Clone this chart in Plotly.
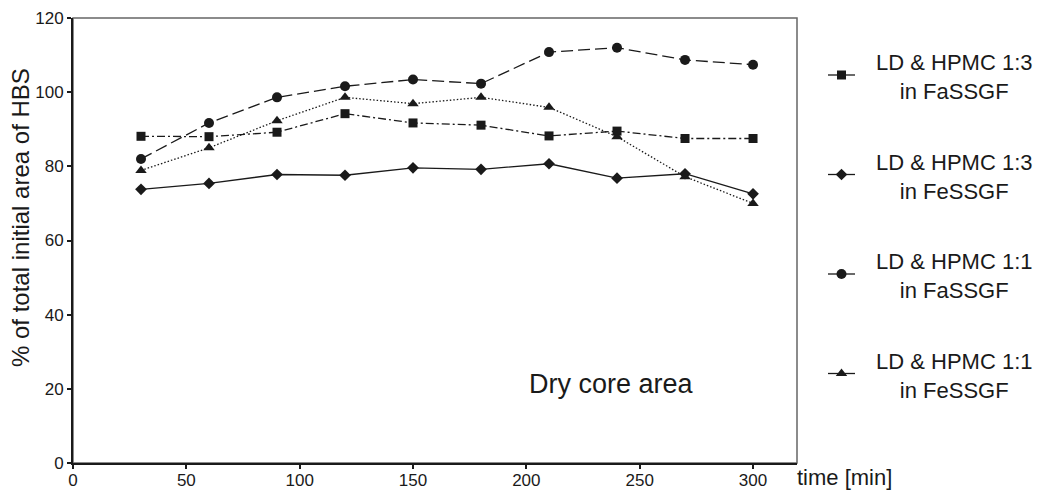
import plotly.graph_objects as go

# ---------------- data ----------------
time_min = [30, 60, 90, 120, 150, 180, 210, 240, 270, 300]
ld_hpmc13_fassgf = [88.1, 88.0, 89.2, 94.2, 91.7, 91.1, 88.2, 89.5, 87.5, 87.5]
ld_hpmc13_fessgf = [73.8, 75.4, 77.8, 77.6, 79.6, 79.2, 80.7, 76.8, 78.0, 72.6]
ld_hpmc11_fassgf = [82.0, 91.7, 98.6, 101.6, 103.4, 102.3, 110.8, 112.0, 108.7, 107.4]
ld_hpmc11_fessgf = [78.9, 85.0, 92.3, 98.6, 96.9, 98.6, 95.9, 88.0, 77.2, 70.0]
series_names = ["LD & HPMC 1:3<br>in FaSSGF", "LD & HPMC 1:3<br>in FeSSGF",
                "LD & HPMC 1:1<br>in FaSSGF", "LD & HPMC 1:1<br>in FeSSGF"]
x_ticks = [0, 50, 100, 150, 200, 250, 300]
y_ticks = [0, 20, 40, 60, 80, 100, 120]

# ---------------- layout constants ----------------
W, H = 1043, 492
L, R, T, B = 73, 797, 18, 463
FONT = "Liberation Sans, Arial, sans-serif"
INK = "#1a1a1a"

styles = [
    dict(symbol="square", size=9, dash="8px,3px,2px,3px", lsize=9),
    dict(symbol="diamond", size=9, dash="solid", lsize=9),
    dict(symbol="circle", size=10, dash="12px,5px", lsize=10),
    dict(symbol="triangle-up", size=10, dash="1.5px,2px", lsize=10),
]
all_series = [ld_hpmc13_fassgf, ld_hpmc13_fessgf, ld_hpmc11_fassgf, ld_hpmc11_fessgf]

fig = go.Figure()
for vals, st, name in zip(all_series, styles, series_names):
    fig.add_trace(go.Scatter(
        x=time_min, y=vals, mode="lines+markers", name=name, showlegend=False,
        line=dict(color=INK, width=1.3, dash=st["dash"]),
        marker=dict(symbol=st["symbol"], size=st["size"], color=INK),
        xaxis="x", yaxis="y", cliponaxis=False,
    ))

# custom legend (symbols on a pixel-space overlay axis, centred text as annotations)
leg_x0, leg_x1 = 828, 855
leg_y0, leg_dy = 75, 99.5
annotations = []
for i, (st, name) in enumerate(zip(styles, series_names)):
    ym = leg_y0 + leg_dy * i
    fig.add_trace(go.Scatter(
        x=[leg_x0, leg_x1], y=[ym, ym], mode="lines",
        showlegend=False, hoverinfo="skip",
        line=dict(color=INK, width=1.3), xaxis="x2", yaxis="y2",
    ))
    fig.add_trace(go.Scatter(
        x=[(leg_x0 + leg_x1) / 2], y=[ym], mode="markers",
        showlegend=False, hoverinfo="skip",
        marker=dict(symbol=st["symbol"], size=st["lsize"], color=INK),
        xaxis="x2", yaxis="y2",
    ))
    annotations.append(dict(
        x=954 / W, y=1 - (ym + 2) / H, xref="paper", yref="paper",
        text=name, showarrow=False, align="center",
        xanchor="center", yanchor="middle",
        font=dict(family=FONT, size=22, color=INK),
    ))

annotations += [
    dict(x=20 / W, y=1 - 218 / H, xref="paper", yref="paper",
         text="% of total initial area of HBS", textangle=-90, showarrow=False,
         xanchor="center", yanchor="middle",
         font=dict(family=FONT, size=24, color=INK)),
    dict(x=795 / W, y=1 - 477.5 / H, xref="paper", yref="paper",
         text="time [min]", showarrow=False, xanchor="left", yanchor="middle",
         font=dict(family=FONT, size=22, color=INK)),
    dict(x=611 / W, y=1 - 384 / H, xref="paper", yref="paper",
         text="Dry core area", showarrow=False, xanchor="center", yanchor="middle",
         font=dict(family=FONT, size=27, color=INK)),
]

fig.update_layout(
    width=W, height=H,
    margin=dict(l=0, r=0, t=0, b=0, pad=0),
    paper_bgcolor="white", plot_bgcolor="rgba(0,0,0,0)",
    showlegend=False,
    font=dict(family=FONT, color=INK),
    xaxis=dict(domain=[L / W, R / W], range=[0, 319.4], tickvals=x_ticks,
               showgrid=False, zeroline=False, showline=True, linecolor=INK,
               linewidth=1.5, ticks="outside", ticklen=4, tickwidth=1.5,
               tickcolor=INK, tickfont=dict(size=17, color=INK, family=FONT),
               ticklabelstandoff=-3,
               anchor="y", automargin=False),
    yaxis=dict(domain=[1 - B / H, 1 - T / H], range=[0, 120], tickvals=y_ticks,
               showgrid=False, zeroline=False, showline=True, linecolor=INK,
               linewidth=2, ticks="outside", ticklen=4, tickwidth=1.5,
               tickcolor=INK, tickfont=dict(size=17, color=INK, family=FONT),
               anchor="x", automargin=False),
    xaxis2=dict(domain=[0, 1], range=[0, W], visible=False, anchor="y2", fixedrange=True),
    yaxis2=dict(domain=[0, 1], range=[H, 0], visible=False, anchor="x2", fixedrange=True),
    shapes=[dict(type="rect", xref="x domain", yref="y domain", x0=0, x1=1, y0=0, y1=1,
                 line=dict(color="#666666", width=1.5), layer="below")],
    annotations=annotations,
)

fig.write_html("out.html")
